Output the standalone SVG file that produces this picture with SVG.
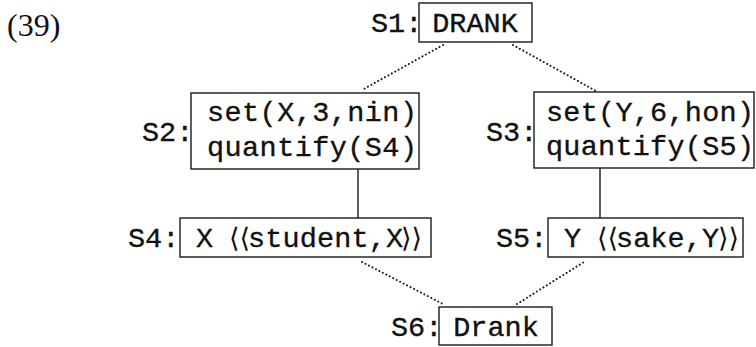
<svg xmlns="http://www.w3.org/2000/svg" width="756" height="347" viewBox="0 0 756 347">
  <style>
    .box { fill: #ffffff; stroke: #1a1a1a; stroke-width: 1.4; }
    .tt { font-family: "Liberation Mono", "DejaVu Sans Mono", monospace; font-size: 28.5px; fill: #111111; stroke: #111111; stroke-width: 0.35; }
    .ang { font-family: "DejaVu Serif", "Liberation Serif", serif; font-size: 27px; fill: #111111; }
    .num { font-family: "Liberation Serif", "Times New Roman", serif; font-size: 32px; fill: #111111; }
    .dot { fill: none; stroke: #1a1a1a; stroke-width: 2; stroke-linecap: round; stroke-dasharray: 0.1 3.8; }
    .solid { fill: none; stroke: #1a1a1a; stroke-width: 1.4; }
  </style>

  <text class="num" x="7" y="36">(39)</text>

  <!-- connectors -->
  <g id="connectors">
    <line class="dot" x1="443" y1="45" x2="362" y2="90"/>
    <line class="dot" x1="513" y1="45" x2="596" y2="91"/>
    <line class="solid" x1="358" y1="169" x2="358" y2="218"/>
    <line class="solid" x1="600" y1="168" x2="600" y2="218"/>
    <line class="dot" x1="362" y1="262" x2="443" y2="304"/>
    <line class="dot" x1="517" y1="304" x2="584" y2="262"/>
  </g>

  <g id="S1">
    <text class="tt" x="371" y="32">S1:</text>
    <rect class="box" x="419" y="3" width="113" height="39"/>
    <text class="tt" x="475" y="32" text-anchor="middle">DRANK</text>
  </g>

  <g id="S2">
    <text class="tt" x="142" y="141">S2:</text>
    <rect class="box" x="191" y="93" width="228" height="76"/>
    <text class="tt" x="207" y="121" textLength="210">set(X,3,nin)</text>
    <text class="tt" x="207" y="156" textLength="210">quantify(S4)</text>
  </g>

  <g id="S3">
    <text class="tt" x="486" y="141">S3:</text>
    <rect class="box" x="534" y="92" width="220" height="76"/>
    <text class="tt" x="546" y="121" textLength="208">set(Y,6,hon)</text>
    <text class="tt" x="546" y="155" textLength="208">quantify(S5)</text>
  </g>

  <g id="S4">
    <text class="tt" x="128" y="247">S4:</text>
    <rect class="box" x="180" y="218" width="251" height="39"/>
    <text class="tt" x="196" y="247">X</text>
    <text class="ang" x="229" y="247">⟨⟨</text>
    <text class="tt" x="248" y="247" textLength="155">student,X</text>
    <text class="ang" x="401" y="247">⟩⟩</text>
  </g>

  <g id="S5">
    <text class="tt" x="496" y="247">S5:</text>
    <rect class="box" x="548" y="218" width="195" height="39"/>
    <text class="tt" x="564" y="247">Y</text>
    <text class="ang" x="597" y="247">⟨⟨</text>
    <text class="tt" x="616" y="247" textLength="103">sake,Y</text>
    <text class="ang" x="718" y="247">⟩⟩</text>
  </g>

  <g id="S6">
    <text class="tt" x="391" y="336">S6:</text>
    <rect class="box" x="439" y="307" width="113" height="38"/>
    <text class="tt" x="496" y="336" text-anchor="middle">Drank</text>
  </g>
</svg>
